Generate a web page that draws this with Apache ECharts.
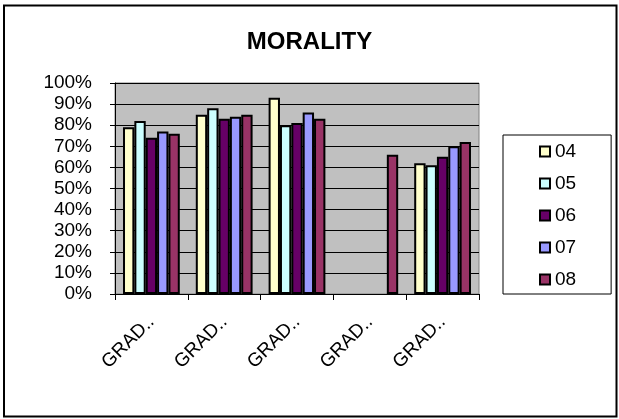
<!DOCTYPE html>
<html>
<head>
<meta charset="utf-8">
<script src="https://cdn.jsdelivr.net/npm/echarts@6/dist/echarts.min.js"></script>
<style>
  html, body { margin: 0; padding: 0; background: #fff; }
  #chart { width: 619px; height: 419px; }
</style>
</head>
<body>
<div id="chart"></div>
<script>
// data
const grades = ['GRADE 1', 'GRADE 2', 'GRADE 3', 'GRADE 4', 'GRADE 5'];
const years = ['04', '05', '06', '07', '08'];
const y04 = [79, 85, 93, null, 62];
const y05 = [82, 88, 80, null, 61];
const y06 = [74, 83, 81, null, 65];
const y07 = [77, 84, 86, null, 70];
const y08 = [76, 85, 83, 66, 72];
const colors = ['#FFFFCC', '#CCFFFF', '#660066', '#9999FF', '#993366'];

const font = 'Arial, "Liberation Sans", sans-serif';
const chart = echarts.init(document.getElementById('chart'));

const series = [y04, y05, y06, y07, y08].map((vals, i) => ({
  name: years[i],
  type: 'bar',
  data: vals,
  barGap: '0%',
  barCategoryGap: '22%',
  itemStyle: { color: colors[i], borderColor: '#000', borderWidth: 2 },
  animation: false
}));

chart.setOption({
  animation: false,
  title: {
    text: 'MORALITY',
    left: 'center',
    top: 25,
    textStyle: { fontFamily: font, fontSize: 24, fontWeight: 'bold', color: '#000' }
  },
  legend: {
    orient: 'vertical',
    left: 503,
    top: 135,
    padding: [7, 35, 5, 36],
    itemWidth: 10,
    itemHeight: 10,
    itemGap: 13,
    borderColor: '#000',
    borderWidth: 1,
    icon: 'rect',
    textStyle: { fontFamily: font, fontSize: 19, color: '#000', lineHeight: 19 },
    data: years
  },
  graphic: [{
    type: 'rect',
    shape: { x: 4, y: 5.5, width: 612.5, height: 411 },
    style: { fill: null, stroke: '#000', lineWidth: 2 },
    silent: true
  }],
  grid: {
    left: 115,
    top: 83,
    right: 140,
    bottom: 125,
    show: true,
    backgroundColor: '#C0C0C0',
    borderColor: '#808080',
    borderWidth: 1
  },
  xAxis: {
    type: 'category',
    data: grades,
    axisLine: { lineStyle: { color: '#000', width: 1 } },
    axisTick: { show: true, length: 6, lineStyle: { color: '#000' } },
    axisLabel: {
      rotate: 45,
      interval: 0,
      margin: 25,
      verticalAlign: 'middle',
      width: 70,
      overflow: 'truncate',
      ellipsis: '..',
      fontFamily: font,
      fontSize: 19,
      color: '#000'
    }
  },
  yAxis: {
    type: 'value',
    min: 0,
    max: 100,
    interval: 10,
    axisLine: { show: true, lineStyle: { color: '#000', width: 1 } },
    axisTick: { show: true, length: 5, lineStyle: { color: '#000' } },
    axisLabel: {
      formatter: '{value}%',
      margin: 23,
      fontFamily: font,
      fontSize: 19,
      color: '#000'
    },
    splitLine: { lineStyle: { color: '#000', width: 1 } }
  },
  series: series
});
</script>
</body>
</html>
